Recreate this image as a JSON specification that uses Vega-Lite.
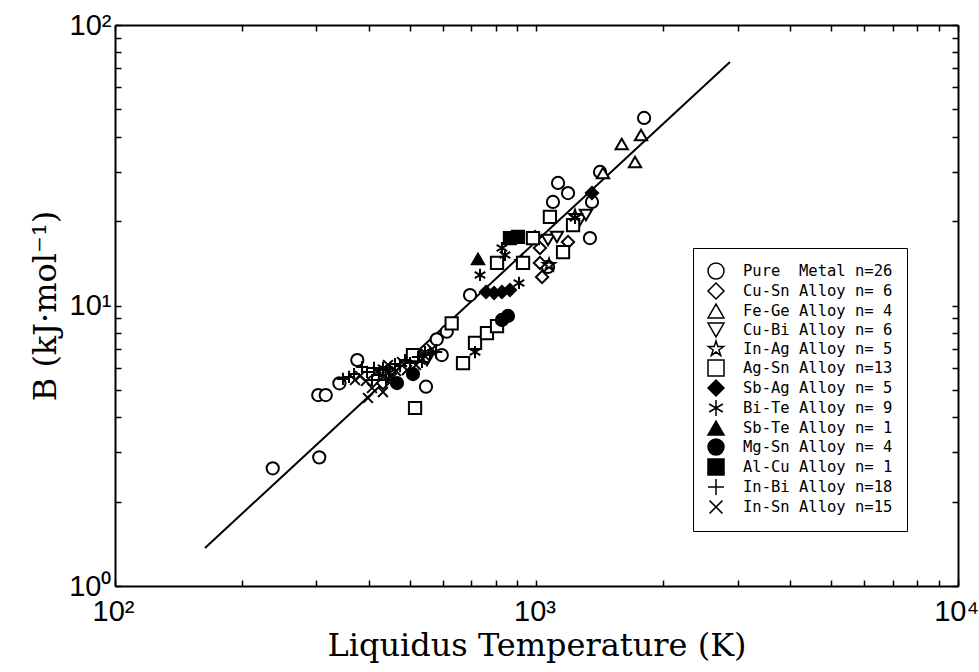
{
  "$schema": "https://vega.github.io/schema/vega-lite/v6.json",
  "width": 843,
  "height": 561,
  "autosize": {"type": "none"},
  "padding": {"left": 115, "top": 25, "right": 21, "bottom": 86},
  "background": "white",
  "config": {
    "view": {"stroke": null},
    "axis": {
      "grid": false,
      "domainColor": "black",
      "domainWidth": 2,
      "tickColor": "black",
      "tickWidth": 1.5,
      "tickSize": -6,
      "labelColor": "black",
      "labelFont": "Liberation Sans",
      "labelFontSize": 29,
      "labelOverlap": false,
      "labelFlush": false,
      "titleColor": "black",
      "titleFont": "DejaVu Serif",
      "titleFontSize": 32,
      "titleFontWeight": "normal"
    }
  },
  "datasets": {
    "fit": [
      {"T": 163.5, "B": 1.367},
      {"T": 2877, "B": 73.8}
    ],
    "points": [
      {"g": "Pure\u00a0\u00a0Metal n=26", "T": 236.7, "B": 2.628},
      {"g": "Pure\u00a0\u00a0Metal n=26", "T": 305.2, "B": 2.875},
      {"g": "Pure\u00a0\u00a0Metal n=26", "T": 303.5, "B": 4.795},
      {"g": "Pure\u00a0\u00a0Metal n=26", "T": 316.2, "B": 4.795},
      {"g": "Pure\u00a0\u00a0Metal n=26", "T": 340.7, "B": 5.28},
      {"g": "Pure\u00a0\u00a0Metal n=26", "T": 375.7, "B": 6.393},
      {"g": "Pure\u00a0\u00a0Metal n=26", "T": 546.8, "B": 5.135},
      {"g": "Pure\u00a0\u00a0Metal n=26", "T": 596, "B": 6.66},
      {"g": "Pure\u00a0\u00a0Metal n=26", "T": 579.9, "B": 7.578},
      {"g": "Pure\u00a0\u00a0Metal n=26", "T": 612.4, "B": 8.066},
      {"g": "Pure\u00a0\u00a0Metal n=26", "T": 695.5, "B": 10.9},
      {"g": "Pure\u00a0\u00a0Metal n=26", "T": 1065, "B": 13.72},
      {"g": "Pure\u00a0\u00a0Metal n=26", "T": 1094, "B": 23.39},
      {"g": "Pure\u00a0\u00a0Metal n=26", "T": 1125, "B": 27.34},
      {"g": "Pure\u00a0\u00a0Metal n=26", "T": 1188, "B": 25.18},
      {"g": "Pure\u00a0\u00a0Metal n=26", "T": 1339, "B": 17.4},
      {"g": "Pure\u00a0\u00a0Metal n=26", "T": 1354, "B": 23.39},
      {"g": "Pure\u00a0\u00a0Metal n=26", "T": 1415, "B": 29.92},
      {"g": "Pure\u00a0\u00a0Metal n=26", "T": 1800, "B": 46.61},
      {"g": "Cu-Sn Alloy n= 6", "T": 432.3, "B": 5.293},
      {"g": "Cu-Sn Alloy n= 6", "T": 992, "B": 17.55},
      {"g": "Cu-Sn Alloy n= 6", "T": 1019, "B": 16.03},
      {"g": "Cu-Sn Alloy n= 6", "T": 1019, "B": 14.18},
      {"g": "Cu-Sn Alloy n= 6", "T": 1031, "B": 12.64},
      {"g": "Cu-Sn Alloy n= 6", "T": 1188, "B": 16.84},
      {"g": "Fe-Ge Alloy n= 4", "T": 1438, "B": 29.68},
      {"g": "Fe-Ge Alloy n= 4", "T": 1593, "B": 37.64},
      {"g": "Fe-Ge Alloy n= 4", "T": 1770, "B": 40.53},
      {"g": "Fe-Ge Alloy n= 4", "T": 1713, "B": 32.48},
      {"g": "Cu-Bi Alloy n= 6", "T": 549.8, "B": 6.393},
      {"g": "Cu-Bi Alloy n= 6", "T": 1065, "B": 17.12},
      {"g": "Cu-Bi Alloy n= 6", "T": 1118, "B": 17.55},
      {"g": "Cu-Bi Alloy n= 6", "T": 1268, "B": 20.17},
      {"g": "Cu-Bi Alloy n= 6", "T": 1310, "B": 21.02},
      {"g": "In-Ag Alloy n= 5", "T": 1234, "B": 20.85},
      {"g": "In-Ag Alloy n= 5", "T": 1071, "B": 13.95},
      {"g": "In-Ag Alloy n= 5", "T": 923.9, "B": 14.3},
      {"g": "In-Ag Alloy n= 5", "T": 432.3, "B": 5.794},
      {"g": "In-Ag Alloy n= 5", "T": 529.1, "B": 6.499},
      {"g": "Ag-Sn Alloy n=13", "T": 509.3, "B": 6.66},
      {"g": "Ag-Sn Alloy n=13", "T": 515, "B": 4.311},
      {"g": "Ag-Sn Alloy n=13", "T": 669.4, "B": 6.237},
      {"g": "Ag-Sn Alloy n=13", "T": 714.7, "B": 7.351},
      {"g": "Ag-Sn Alloy n=13", "T": 762.9, "B": 7.978},
      {"g": "Ag-Sn Alloy n=13", "T": 806, "B": 8.45},
      {"g": "Ag-Sn Alloy n=13", "T": 629.1, "B": 8.639},
      {"g": "Ag-Sn Alloy n=13", "T": 806, "B": 14.18},
      {"g": "Ag-Sn Alloy n=13", "T": 929, "B": 14.18},
      {"g": "Ag-Sn Alloy n=13", "T": 981, "B": 17.4},
      {"g": "Ag-Sn Alloy n=13", "T": 1076, "B": 20.68},
      {"g": "Ag-Sn Alloy n=13", "T": 1156, "B": 15.51},
      {"g": "Ag-Sn Alloy n=13", "T": 1221, "B": 19.36},
      {"g": "In-Bi Alloy n=18", "T": 347.4, "B": 5.47},
      {"g": "In-Bi Alloy n=18", "T": 359.1, "B": 5.561},
      {"g": "In-Bi Alloy n=18", "T": 369, "B": 5.698},
      {"g": "In-Bi Alloy n=18", "T": 385.5, "B": 6.036},
      {"g": "In-Bi Alloy n=18", "T": 396.2, "B": 5.794},
      {"g": "In-Bi Alloy n=18", "T": 411.6, "B": 5.988},
      {"g": "In-Bi Alloy n=18", "T": 422.9, "B": 5.651},
      {"g": "In-Bi Alloy n=18", "T": 449.3, "B": 5.988},
      {"g": "In-Bi Alloy n=18", "T": 461.7, "B": 6.186},
      {"g": "In-Bi Alloy n=18", "T": 474.5, "B": 6.085},
      {"g": "In-Bi Alloy n=18", "T": 487.5, "B": 6.393},
      {"g": "In-Bi Alloy n=18", "T": 501, "B": 6.237},
      {"g": "In-Bi Alloy n=18", "T": 523.4, "B": 6.553},
      {"g": "In-Bi Alloy n=18", "T": 535, "B": 6.289},
      {"g": "In-Bi Alloy n=18", "T": 558.9, "B": 6.716},
      {"g": "In-Bi Alloy n=18", "T": 577.7, "B": 6.826},
      {"g": "In-Bi Alloy n=18", "T": 439.4, "B": 5.425},
      {"g": "In-Bi Alloy n=18", "T": 407.1, "B": 5.425},
      {"g": "In-Sn Alloy n=15", "T": 398.3, "B": 4.68},
      {"g": "In-Sn Alloy n=15", "T": 407.1, "B": 5.08},
      {"g": "In-Sn Alloy n=15", "T": 432.3, "B": 4.915},
      {"g": "In-Sn Alloy n=15", "T": 381.4, "B": 5.606},
      {"g": "In-Sn Alloy n=15", "T": 393.9, "B": 5.38},
      {"g": "In-Sn Alloy n=15", "T": 418.4, "B": 5.794},
      {"g": "In-Sn Alloy n=15", "T": 454.2, "B": 5.514},
      {"g": "In-Sn Alloy n=15", "T": 479.7, "B": 6.289},
      {"g": "In-Sn Alloy n=15", "T": 492.9, "B": 5.888},
      {"g": "In-Sn Alloy n=15", "T": 517.7, "B": 6.136},
      {"g": "In-Sn Alloy n=15", "T": 543.8, "B": 6.607},
      {"g": "In-Sn Alloy n=15", "T": 565.1, "B": 6.996},
      {"g": "In-Sn Alloy n=15", "T": 464.2, "B": 5.841},
      {"g": "In-Sn Alloy n=15", "T": 444.3, "B": 6.136},
      {"g": "In-Sn Alloy n=15", "T": 371, "B": 5.425},
      {"g": "Bi-Te Alloy n= 9", "T": 734.5, "B": 12.85},
      {"g": "Bi-Te Alloy n= 9", "T": 828, "B": 16.03},
      {"g": "Bi-Te Alloy n= 9", "T": 842, "B": 15.14},
      {"g": "Bi-Te Alloy n= 9", "T": 908.8, "B": 12.03},
      {"g": "Bi-Te Alloy n= 9", "T": 714.7, "B": 6.826},
      {"g": "Bi-Te Alloy n= 9", "T": 432.3, "B": 5.988},
      {"g": "Bi-Te Alloy n= 9", "T": 446.8, "B": 5.745},
      {"g": "Bi-Te Alloy n= 9", "T": 543.8, "B": 6.826},
      {"g": "Bi-Te Alloy n= 9", "T": 1234, "B": 20.51},
      {"g": "Sb-Te Alloy n= 1", "T": 726.5, "B": 14.65},
      {"g": "Mg-Sn Alloy n= 4", "T": 466.7, "B": 5.293},
      {"g": "Mg-Sn Alloy n= 4", "T": 509.3, "B": 5.698},
      {"g": "Mg-Sn Alloy n= 4", "T": 828, "B": 8.878},
      {"g": "Mg-Sn Alloy n= 4", "T": 855.6, "B": 9.175},
      {"g": "Al-Cu Alloy n= 1", "T": 865, "B": 17.4},
      {"g": "Al-Cu Alloy n= 1", "T": 903.8, "B": 17.55},
      {"g": "Sb-Ag Alloy n= 5", "T": 759, "B": 11.17},
      {"g": "Sb-Ag Alloy n= 5", "T": 793, "B": 11.08},
      {"g": "Sb-Ag Alloy n= 5", "T": 828, "B": 11.17},
      {"g": "Sb-Ag Alloy n= 5", "T": 865, "B": 11.36},
      {"g": "Sb-Ag Alloy n= 5", "T": 1354, "B": 25.18}
    ]
  },
  "layer": [
    {
      "data": {"name": "fit"},
      "mark": {"type": "line", "color": "black", "strokeWidth": 2},
      "encoding": {
        "x": {
          "field": "T",
          "type": "quantitative",
          "scale": {"type": "log", "domain": [100, 10000], "nice": false},
          "axis": {
            "orient": "bottom",
            "values": [100, 200, 300, 400, 500, 600, 700, 800, 900, 1000, 2000, 3000, 4000, 5000, 6000, 7000, 8000, 9000, 10000],
            "labelExpr": "datum.value == 100 ? '10²' : datum.value == 1000 ? '10³' : datum.value == 10000 ? '10⁴' : ''",
            "labelPadding": 17,
            "labelOffset": -2,
            "title": "Liquidus Temperature (K)",
            "titlePadding": 4
          }
        },
        "y": {
          "field": "B",
          "type": "quantitative",
          "scale": {"type": "log", "domain": [1, 100], "nice": false},
          "axis": {
            "orient": "left",
            "values": [1, 2, 3, 4, 5, 6, 7, 8, 9, 10, 20, 30, 40, 50, 60, 70, 80, 90, 100],
            "labelExpr": "datum.value == 1 ? '10⁰' : datum.value == 10 ? '10¹' : datum.value == 100 ? '10²' : ''",
            "labelPadding": 10,
            "title": "B (kJ·mol⁻¹)",
            "titlePadding": 6
          }
        }
      }
    },
    {
      "data": {"name": "points"},
      "mark": {"type": "point", "filled": true, "stroke": "black", "strokeWidth": 2, "size": 150, "opacity": 1},
      "encoding": {
        "x": {
          "field": "T",
          "type": "quantitative",
          "axis": {
            "orient": "top",
            "values": [100, 200, 300, 400, 500, 600, 700, 800, 900, 1000, 2000, 3000, 4000, 5000, 6000, 7000, 8000, 9000, 10000],
            "labels": false,
            "title": null
          }
        },
        "y": {
          "field": "B",
          "type": "quantitative",
          "axis": {
            "orient": "right",
            "values": [1, 2, 3, 4, 5, 6, 7, 8, 9, 10, 20, 30, 40, 50, 60, 70, 80, 90, 100],
            "labels": false,
            "title": null
          }
        },
        "shape": {
          "field": "g",
          "type": "nominal",
          "scale": {
            "domain": ["Pure\u00a0\u00a0Metal n=26", "Cu-Sn Alloy n= 6", "Fe-Ge Alloy n= 4", "Cu-Bi Alloy n= 6", "In-Ag Alloy n= 5", "Ag-Sn Alloy n=13", "Sb-Ag Alloy n= 5", "Bi-Te Alloy n= 9", "Sb-Te Alloy n= 1", "Mg-Sn Alloy n= 4", "Al-Cu Alloy n= 1", "In-Bi Alloy n=18", "In-Sn Alloy n=15"],
            "range": ["circle", "diamond", "triangle-up", "triangle-down", "M0,-1L0.2234,-0.3074L0.9511,-0.309L0.3614,0.1174L0.5878,0.809L0,0.38L-0.5878,0.809L-0.3614,0.1174L-0.9511,-0.309L-0.2234,-0.3074Z", "square", "diamond", "M0,-1L0,1M-0.866,-0.5L0.866,0.5M-0.866,0.5L0.866,-0.5", "triangle-up", "circle", "square", "M-1,0L1,0M0,-1L0,1", "M-0.8,-0.8L0.8,0.8M-0.8,0.8L0.8,-0.8"]
          },
          "legend": {
            "title": null,
            "orient": "none",
            "legendX": 578,
            "legendY": 223,
            "padding": 14,
            "strokeColor": "black",
            "fillColor": "white",
            "symbolSize": 256,
            "labelFont": "DejaVu Sans Mono",
            "labelFontSize": 15.5,
            "labelColor": "black",
            "labelOffset": 18,
            "labelLimit": 300,
            "rowPadding": -3,
            "encode": {
              "symbols": {
                "update": {
                  "stroke": {"value": "black"},
                  "strokeWidth": {"value": 2},
                  "opacity": {"value": 1}
                }
              }
            }
          }
        },
        "fill": {
          "field": "g",
          "type": "nominal",
          "scale": {
            "domain": ["Pure\u00a0\u00a0Metal n=26", "Cu-Sn Alloy n= 6", "Fe-Ge Alloy n= 4", "Cu-Bi Alloy n= 6", "In-Ag Alloy n= 5", "Ag-Sn Alloy n=13", "Sb-Ag Alloy n= 5", "Bi-Te Alloy n= 9", "Sb-Te Alloy n= 1", "Mg-Sn Alloy n= 4", "Al-Cu Alloy n= 1", "In-Bi Alloy n=18", "In-Sn Alloy n=15"],
            "range": ["white", "white", "white", "white", "white", "white", "black", "black", "black", "black", "black", "black", "black"]
          },
          "legend": {
            "title": null,
            "orient": "none",
            "legendX": 578,
            "legendY": 223,
            "padding": 14,
            "strokeColor": "black",
            "fillColor": "white",
            "symbolSize": 256,
            "labelFont": "DejaVu Sans Mono",
            "labelFontSize": 15.5,
            "labelColor": "black",
            "labelOffset": 18,
            "labelLimit": 300,
            "rowPadding": -3,
            "encode": {
              "symbols": {
                "update": {
                  "stroke": {"value": "black"},
                  "strokeWidth": {"value": 2},
                  "opacity": {"value": 1}
                }
              }
            }
          }
        }
      }
    }
  ],
  "resolve": {"axis": {"x": "independent", "y": "independent"}}
}
